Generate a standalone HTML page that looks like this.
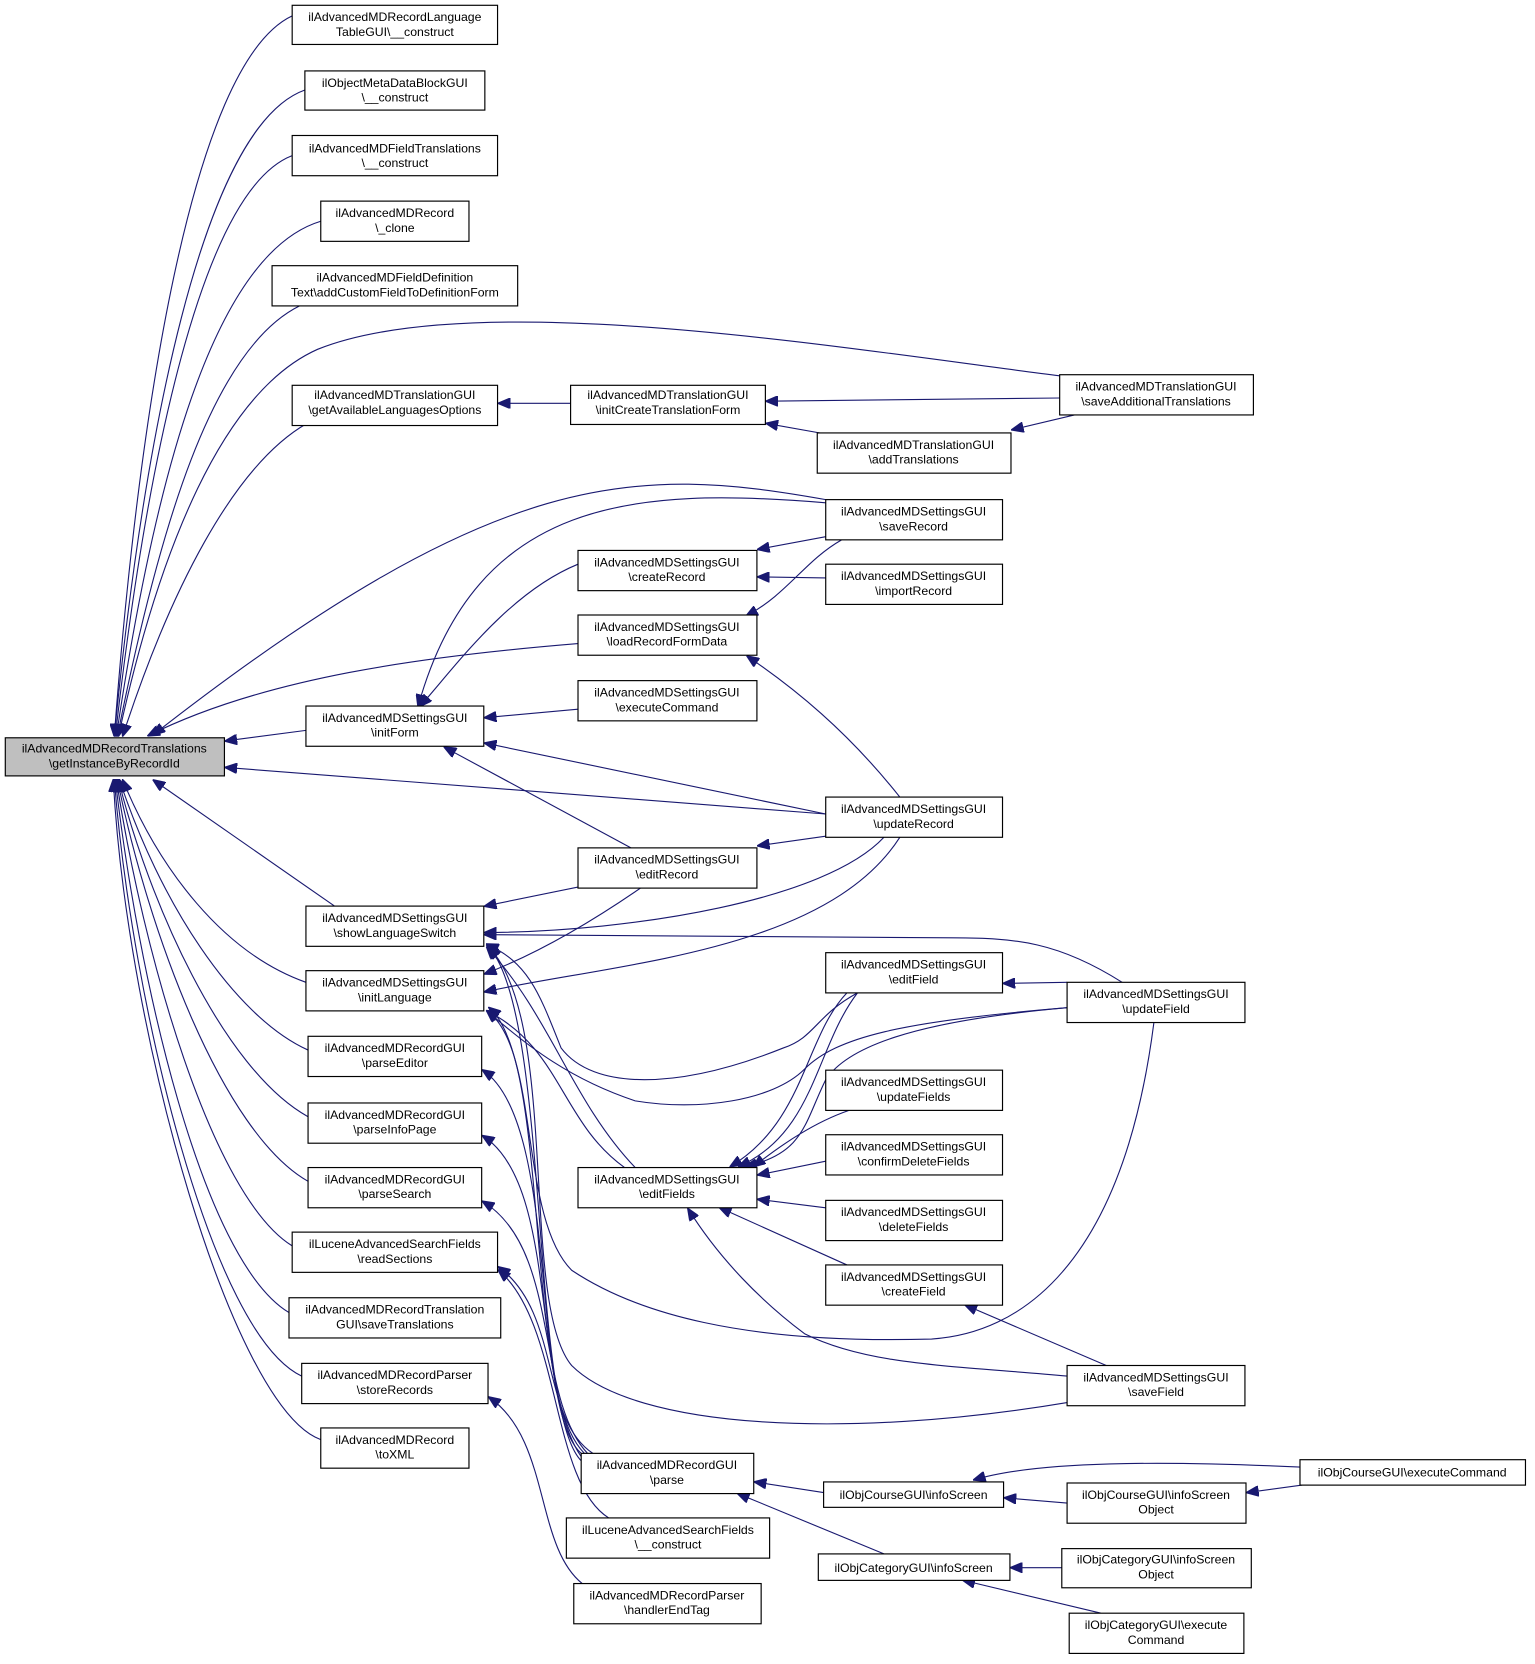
<!DOCTYPE html>
<html><head><meta charset="utf-8"><style>
html,body{margin:0;padding:0;background:#fff}
svg{display:block}
text{font-family:"Liberation Sans",sans-serif;font-size:11.6px;fill:#000}
rect{fill:#fff;stroke:#000;stroke-width:1.1}
path{fill:none;stroke:#191970;stroke-width:1.05}
</style></head><body>
<svg width="1535" height="1664" viewBox="0 0 1450 1572" preserveAspectRatio="none" xmlns="http://www.w3.org/2000/svg">
<defs><marker id="a" markerWidth="12" markerHeight="10" refX="11" refY="5" orient="auto" markerUnits="userSpaceOnUse"><path d="M0,0 L12,5 L0,10 z" style="fill:#191970;stroke:#191970"/></marker></defs>
<g marker-end="url(#a)">
<path d="M276,15 C180,60 130,400 108,695"/>
<path d="M288,85 C190,120 135,420 108,695"/>
<path d="M276,147 C190,180 138,440 109,695"/>
<path d="M303,209 C200,240 145,460 110,695"/>
<path d="M283,289 C200,330 150,500 111,695"/>
<path d="M1001,355 C800,330 450,270 300,330 C210,370 150,520 112,695"/>
<path d="M290,400 C220,440 160,560 116,695"/>
<path d="M780,472 C600,440 470,440 145,694"/>
<path d="M546,608 C400,620 250,640 140,695"/>
<path d="M289,690 L213,700"/>
<path d="M780,769 L213,725"/>
<path d="M316,856 L145,737"/>
<path d="M289,928 C210,900 150,820 116,737"/>
<path d="M291,992 C220,960 150,850 113,737"/>
<path d="M291,1055 C210,1010 140,850 112,737"/>
<path d="M291,1116 C210,1070 140,880 111,737"/>
<path d="M276,1177 C200,1130 135,900 110,737"/>
<path d="M273,1240 C190,1190 130,920 109,737"/>
<path d="M285,1300 C200,1260 125,950 108,737"/>
<path d="M303,1360 C220,1330 120,980 107,737"/>
<path d="M539,381 L471,381"/>
<path d="M1001,376 L724,379"/>
<path d="M780,410 L724,400"/>
<path d="M1015,392 L956,406"/>
<path d="M780,475 C600,460 450,470 395,667"/>
<path d="M546,533 C480,560 430,630 397,667"/>
<path d="M795,510 C760,530 745,560 705,582"/>
<path d="M780,507 L716,519"/>
<path d="M780,546 L716,545"/>
<path d="M850,753 C800,690 750,650 706,620"/>
<path d="M546,670 L458,678"/>
<path d="M780,769 L458,702"/>
<path d="M596,801 L420,706"/>
<path d="M780,790 L716,799"/>
<path d="M546,838 L458,856"/>
<path d="M605,839 C560,870 510,900 458,920"/>
<path d="M835,791 C780,850 600,880 458,881"/>
<path d="M850,791 C780,900 580,910 458,937"/>
<path d="M1060,928 C1000,890 960,886 900,886 L458,883"/>
<path d="M810,938 C770,960 770,980 740,990 C640,1030 560,1030 530,990 C510,940 500,910 460,892"/>
<path d="M1008,952 C850,965 790,980 760,1010 C730,1040 660,1050 600,1040 C540,1020 500,990 460,955"/>
<path d="M600,1103 C540,1040 520,960 460,895"/>
<path d="M590,1103 C530,1060 530,990 460,955"/>
<path d="M549,1373 C500,1330 530,1060 456,1011"/>
<path d="M552,1373 C500,1320 530,1120 456,1073"/>
<path d="M555,1373 C505,1320 530,1180 456,1135"/>
<path d="M560,1373 C510,1340 530,1240 471,1197"/>
<path d="M549,1380 C500,1330 520,960 462,895"/>
<path d="M549,1376 C495,1300 520,1000 462,952"/>
<path d="M575,1434 C520,1400 530,1250 471,1200"/>
<path d="M550,1496 C505,1460 520,1360 462,1320"/>
<path d="M800,938 C760,980 760,1060 690,1102"/>
<path d="M810,938 C770,990 770,1070 698,1102"/>
<path d="M1008,928 L948,929"/>
<path d="M1008,952 C860,965 800,990 780,1020 C760,1060 760,1090 704,1102"/>
<path d="M802,1049 C770,1060 740,1080 712,1102"/>
<path d="M780,1097 L716,1110"/>
<path d="M780,1141 L716,1133"/>
<path d="M800,1195 L680,1141"/>
<path d="M1008,1300 C900,1290 820,1290 760,1260 C720,1230 680,1190 650,1142"/>
<path d="M1045,1290 L912,1233"/>
<path d="M1090,966 C1060,1200 960,1260 880,1265 C700,1270 600,1240 540,1200 C490,1150 510,990 460,955"/>
<path d="M1008,1325 C800,1360 600,1350 540,1290 C490,1230 530,960 460,893"/>
<path d="M778,1410 L713,1400"/>
<path d="M835,1468 L697,1411"/>
<path d="M1008,1420 L949,1415"/>
<path d="M1228,1386 C1100,1380 980,1380 920,1398"/>
<path d="M1230,1403 L1178,1410"/>
<path d="M1003,1481 L955,1481"/>
<path d="M1040,1524 L910,1493"/>
</g>
<g text-anchor="middle">
<rect x="5" y="697" width="207" height="36" style="fill:#bfbfbf"/><text x="108" y="711">ilAdvancedMDRecordTranslations</text><text x="108" y="725">\getInstanceByRecordId</text>
<rect x="276" y="5" width="194" height="37"/><text x="373" y="20">ilAdvancedMDRecordLanguage</text><text x="373" y="34">TableGUI\__construct</text>
<rect x="288" y="67" width="170" height="37"/><text x="373" y="82">ilObjectMetaDataBlockGUI</text><text x="373" y="96">\__construct</text>
<rect x="276" y="128" width="194" height="38"/><text x="373" y="144">ilAdvancedMDFieldTranslations</text><text x="373" y="158">\__construct</text>
<rect x="303" y="190" width="140" height="38"/><text x="373" y="205">ilAdvancedMDRecord</text><text x="373" y="219">\_clone</text>
<rect x="257" y="251" width="232" height="38"/><text x="373" y="266">ilAdvancedMDFieldDefinition</text><text x="373" y="280">Text\addCustomFieldToDefinitionForm</text>
<rect x="276" y="364" width="194" height="38"/><text x="373" y="377">ilAdvancedMDTranslationGUI</text><text x="373" y="391">\getAvailableLanguagesOptions</text>
<rect x="289" y="667" width="168" height="38"/><text x="373" y="682">ilAdvancedMDSettingsGUI</text><text x="373" y="696">\initForm</text>
<rect x="289" y="856" width="168" height="38"/><text x="373" y="871">ilAdvancedMDSettingsGUI</text><text x="373" y="885">\showLanguageSwitch</text>
<rect x="289" y="917" width="168" height="38"/><text x="373" y="932">ilAdvancedMDSettingsGUI</text><text x="373" y="946">\initLanguage</text>
<rect x="291" y="979" width="164" height="38"/><text x="373" y="994">ilAdvancedMDRecordGUI</text><text x="373" y="1008">\parseEditor</text>
<rect x="291" y="1042" width="164" height="38"/><text x="373" y="1057">ilAdvancedMDRecordGUI</text><text x="373" y="1071">\parseInfoPage</text>
<rect x="291" y="1103" width="164" height="38"/><text x="373" y="1118">ilAdvancedMDRecordGUI</text><text x="373" y="1132">\parseSearch</text>
<rect x="276" y="1164" width="194" height="38"/><text x="373" y="1179">ilLuceneAdvancedSearchFields</text><text x="373" y="1193">\readSections</text>
<rect x="273" y="1226" width="200" height="38"/><text x="373" y="1241">ilAdvancedMDRecordTranslation</text><text x="373" y="1255">GUI\saveTranslations</text>
<rect x="285" y="1288" width="176" height="38"/><text x="373" y="1303">ilAdvancedMDRecordParser</text><text x="373" y="1317">\storeRecords</text>
<rect x="303" y="1349" width="140" height="38"/><text x="373" y="1364">ilAdvancedMDRecord</text><text x="373" y="1378">\toXML</text>
<rect x="539" y="364" width="184" height="37"/><text x="631" y="377">ilAdvancedMDTranslationGUI</text><text x="631" y="391">\initCreateTranslationForm</text>
<rect x="546" y="520" width="169" height="38"/><text x="630" y="535">ilAdvancedMDSettingsGUI</text><text x="630" y="549">\createRecord</text>
<rect x="546" y="581" width="169" height="38"/><text x="630" y="596">ilAdvancedMDSettingsGUI</text><text x="630" y="610">\loadRecordFormData</text>
<rect x="546" y="643" width="169" height="38"/><text x="630" y="658">ilAdvancedMDSettingsGUI</text><text x="630" y="672">\executeCommand</text>
<rect x="546" y="801" width="169" height="38"/><text x="630" y="816">ilAdvancedMDSettingsGUI</text><text x="630" y="830">\editRecord</text>
<rect x="546" y="1103" width="169" height="38"/><text x="630" y="1118">ilAdvancedMDSettingsGUI</text><text x="630" y="1132">\editFields</text>
<rect x="549" y="1373" width="163" height="38"/><text x="630" y="1388">ilAdvancedMDRecordGUI</text><text x="630" y="1402">\parse</text>
<rect x="535" y="1434" width="192" height="38"/><text x="631" y="1449">ilLuceneAdvancedSearchFields</text><text x="631" y="1463">\__construct</text>
<rect x="542" y="1496" width="177" height="38"/><text x="630" y="1511">ilAdvancedMDRecordParser</text><text x="630" y="1525">\handlerEndTag</text>
<rect x="772" y="409" width="183" height="38"/><text x="863" y="424">ilAdvancedMDTranslationGUI</text><text x="863" y="438">\addTranslations</text>
<rect x="780" y="472" width="167" height="38"/><text x="863" y="487">ilAdvancedMDSettingsGUI</text><text x="863" y="501">\saveRecord</text>
<rect x="780" y="533" width="167" height="38"/><text x="863" y="548">ilAdvancedMDSettingsGUI</text><text x="863" y="562">\importRecord</text>
<rect x="780" y="753" width="167" height="38"/><text x="863" y="768">ilAdvancedMDSettingsGUI</text><text x="863" y="782">\updateRecord</text>
<rect x="780" y="900" width="167" height="38"/><text x="863" y="915">ilAdvancedMDSettingsGUI</text><text x="863" y="929">\editField</text>
<rect x="780" y="1011" width="167" height="38"/><text x="863" y="1026">ilAdvancedMDSettingsGUI</text><text x="863" y="1040">\updateFields</text>
<rect x="780" y="1072" width="167" height="38"/><text x="863" y="1087">ilAdvancedMDSettingsGUI</text><text x="863" y="1101">\confirmDeleteFields</text>
<rect x="780" y="1134" width="167" height="38"/><text x="863" y="1149">ilAdvancedMDSettingsGUI</text><text x="863" y="1163">\deleteFields</text>
<rect x="780" y="1195" width="167" height="38"/><text x="863" y="1210">ilAdvancedMDSettingsGUI</text><text x="863" y="1224">\createField</text>
<rect x="778" y="1400" width="170" height="24"/><text x="863" y="1416">ilObjCourseGUI\infoScreen</text>
<rect x="773" y="1468" width="181" height="25"/><text x="863" y="1485">ilObjCategoryGUI\infoScreen</text>
<rect x="1001" y="354" width="183" height="38"/><text x="1092" y="369">ilAdvancedMDTranslationGUI</text><text x="1092" y="383">\saveAdditionalTranslations</text>
<rect x="1008" y="928" width="168" height="38"/><text x="1092" y="943">ilAdvancedMDSettingsGUI</text><text x="1092" y="957">\updateField</text>
<rect x="1008" y="1290" width="168" height="38"/><text x="1092" y="1305">ilAdvancedMDSettingsGUI</text><text x="1092" y="1319">\saveField</text>
<rect x="1008" y="1401" width="169" height="38"/><text x="1092" y="1416">ilObjCourseGUI\infoScreen</text><text x="1092" y="1430">Object</text>
<rect x="1003" y="1463" width="179" height="37"/><text x="1092" y="1477">ilObjCategoryGUI\infoScreen</text><text x="1092" y="1491">Object</text>
<rect x="1010" y="1524" width="165" height="38"/><text x="1092" y="1539">ilObjCategoryGUI\execute</text><text x="1092" y="1553">Command</text>
<rect x="1228" y="1379" width="213" height="24"/><text x="1334" y="1395">ilObjCourseGUI\executeCommand</text>
</g>
</svg>
</body></html>
